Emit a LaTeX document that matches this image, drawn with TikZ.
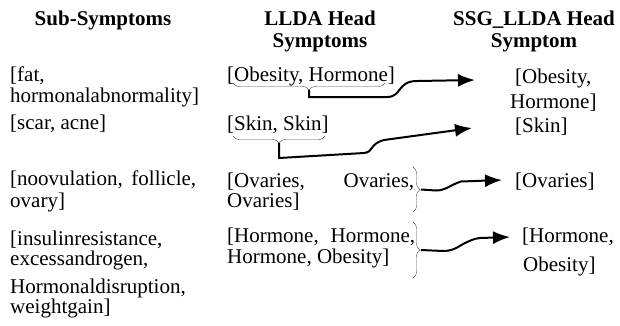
\documentclass[tikz,border=0pt]{standalone}
\usepackage{fontspec}
\setmainfont{Liberation Serif}
\usepackage{tikz}
\usetikzlibrary{arrows.meta,positioning,calc,decorations.pathreplacing}

\begin{document}
\begin{tikzpicture}[
  x=1pt, y=-1pt,
  txt/.style={anchor=base west, inner sep=0pt, font=\fontsize{21}{22}\selectfont},
  head/.style={anchor=north, inner sep=0pt, align=center, font=\fontsize{21}{22}\selectfont\bfseries},
  brc/.style={decorate, decoration={brace, amplitude=7pt}, draw=black!70, thin},
  arr/.style={-{Latex[length=17pt, width=13pt]}, line width=2pt, black}
]
  \useasboundingbox (0,0) rectangle (620,325);

  % headers
  \node[head] (hsub) at (103,11) {Sub-Symptoms};
  \node[head] (hllda) at (320,11) {LLDA Head\\Symptoms};
  \node[head] (hssg) at (534,11) {SSG\_LLDA Head\\Symptom};

  % sub-symptoms
  \node[txt] (s1a) at (10,81) {[fat,};
  \node[txt] (s1b) at (10,102) {hormonalabnormality]};
  \node[txt] (s2) at (10,129) {[scar, acne]};
  \node[txt] (s3a) at (10,185) {\makebox[186pt][s]{[noovulation, follicle,}};
  \node[txt] (s3b) at (10,207) {ovary]};
  \node[txt] (s4a) at (10,245) {[insulinresistance,};
  \node[txt] (s4b) at (10,265) {excessandrogen,};
  \node[txt] (s4c) at (10,293) {Hormonaldisruption,};
  \node[txt] (s4d) at (10,313) {weightgain]};

  % LLDA head symptoms
  \node[txt] (l1) at (227,81) {[Obesity, Hormone]};
  \node[txt] (l2) at (227,130) {[Skin, Skin]};
  \node[txt] (l3a) at (227,187) {\makebox[187pt][s]{[Ovaries, Ovaries,}};
  \node[txt] (l3b) at (227,207) {Ovaries]};
  \node[txt] (l4a) at (227,242) {\makebox[188pt][s]{[Hormone, Hormone,}};
  \node[txt] (l4b) at (227,263) {Hormone, Obesity]};

  % SSG_LLDA head symptom
  \node[txt] (g1a) at (515,83) {[Obesity,};
  \node[txt] (g1b) at (510,108) {Hormone]};
  \node[txt] (g2) at (515,132) {[Skin]};
  \node[txt] (g3) at (515,187) {[Ovaries]};
  \node[txt] (g4a) at (522,242) {[Hormone,};
  \node[txt] (g4b) at (523,271) {Obesity]};

  % braces
  \draw[brc] (385,83) -- (233,83) coordinate[midway, yshift=-7pt] (b1);
  \draw[brc] (325,136) -- (233,136) coordinate[midway, yshift=-7pt] (b2);
  \draw[brc] (413,167) -- (413,212) coordinate[midway, xshift=8pt] (b3);
  \draw[brc] (413,222) -- (413,278) coordinate[midway, xshift=8pt] (b4);

  % arrows
  \draw[arr] (b1) -- ++(0,7) -- ++(78,0) .. controls ++(15,0) and ++(-20,0) .. ++(30,-16) -- ([xshift=-40pt, yshift=3pt]g1a.base west);
  \draw[arr] (b2) -- ++(0,15) -- ++(85,-5) .. controls ++(10,-1) and ++(-15,4) .. ++(20,-13) -- ([xshift=-43pt, yshift=4pt]g2.base west);
  \draw[arr] (b3) -- ++(15,1) .. controls ++(10,0) and ++(-10,3) .. ++(25,-9) -- ([xshift=-13pt, yshift=7pt]g3.base west);
  \draw[arr] (b4) -- ++(22,1) .. controls ++(12,0) and ++(-5,2) .. ++(22,-8) .. controls ++(5,-2) and ++(-8,1) .. ++(15,-5) -- ([xshift=-12pt, yshift=5pt]g4a.base west);
\end{tikzpicture}
\end{document}
